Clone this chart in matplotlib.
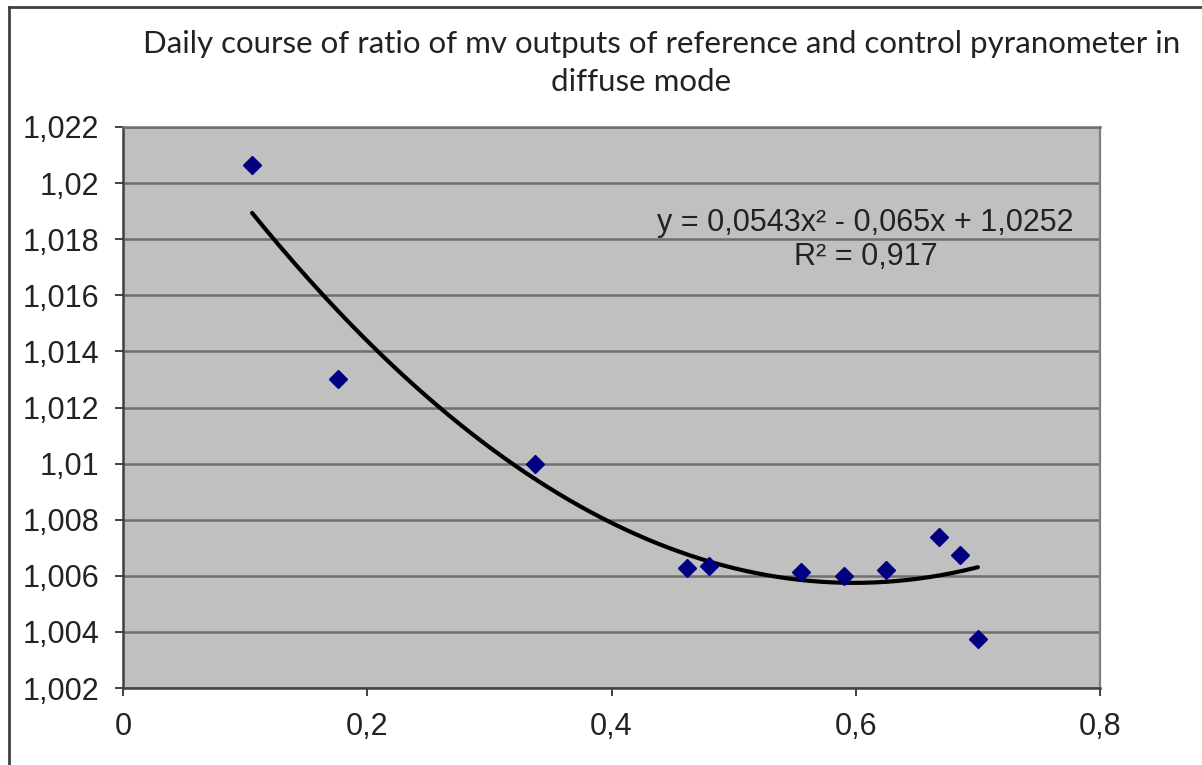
import numpy as np
import matplotlib.pyplot as plt
from matplotlib.lines import Line2D

# measured ratio of mV outputs (reference / control) vs. time fraction
x_vals = [0.1057, 0.176, 0.337, 0.4615, 0.480, 0.555, 0.590, 0.625, 0.668, 0.685, 0.700]
y_vals = [1.02065, 1.01302, 1.00999, 1.00628, 1.00635, 1.00614, 1.00600, 1.00621, 1.00738, 1.00674, 1.00375]

# polynomial trendline (order 2) as reported on the chart
coef = [0.0543, -0.065, 1.0252]
r2 = 0.917

x_ticks = [0, 0.2, 0.4, 0.6, 0.8]
y_ticks = [1.002, 1.004, 1.006, 1.008, 1.01, 1.012, 1.014, 1.016, 1.018, 1.02, 1.022]


def comma(v):
    return ("%g" % v).replace(".", ",")


fig = plt.figure(figsize=(12.02, 7.65), dpi=100)
ax = fig.add_axes([123 / 1202, 1 - 688 / 765, 977 / 1202, 561 / 765])
ax.set_facecolor("#c0c0c0")

# gridlines
for yv in y_ticks:
    ax.axhline(yv, color="#707070", lw=1.8, zorder=1)

# trendline over the range of the data
xt = np.linspace(min(x_vals), max(x_vals), 200)
yt = np.polyval(coef, xt)
ax.plot(xt, yt, color="black", lw=3, solid_capstyle="round", zorder=3)

ax.plot(x_vals, y_vals, linestyle="none", marker="D", ms=9,
        color="#000080", mec="#000080", zorder=4)

ax.set_xlim(0, 0.8)
ax.set_ylim(1.002, 1.022)
ax.set_xticks(x_ticks)
ax.set_yticks(y_ticks)
ax.set_xticklabels([comma(v) for v in x_ticks])
ax.set_yticklabels([comma(v) for v in y_ticks])
ax.tick_params(axis="both", direction="out", length=6, width=1.4,
               color="#404040", labelsize=22, labelcolor="#222222",
               labelfontfamily="Liberation Sans")
ax.tick_params(axis="y", pad=11)
ax.tick_params(axis="x", pad=11)

for side in ["left", "bottom"]:
    ax.spines[side].set_color("#404040")
    ax.spines[side].set_linewidth(1.8)
ax.spines["right"].set_color("#808080")
ax.spines["right"].set_linewidth(1.6)
ax.spines["top"].set_color("#707070")
ax.spines["top"].set_linewidth(1.8)

ax.text(0.608, 1.01797,
        "y = 0,0543x² - 0,065x + 1,0252\nR² = %s" % comma(r2),
        ha="center", va="center", fontsize=22, color="#222222",
        family="Liberation Sans", linespacing=1.2, zorder=5)

fig.text(662 / 1202, 1 - 44 / 765,
         "Daily course of ratio of mv outputs of reference and control pyranometer in",
         ha="center", va="center", fontsize=22.5, color="#222222", family="Lato")
fig.text(641 / 1202, 1 - 82 / 765, "diffuse mode",
         ha="center", va="center", fontsize=22.5, color="#222222", family="Lato")

# outer frame (top and left edges)
fig.add_artist(Line2D([9 / 1202, 1.0], [1 - 7 / 765, 1 - 7 / 765],
                      transform=fig.transFigure, color="#404040", lw=2))
fig.add_artist(Line2D([9 / 1202, 9 / 1202], [0, 1 - 7 / 765],
                      transform=fig.transFigure, color="#404040", lw=2))

fig.savefig("out.png", dpi=100)
